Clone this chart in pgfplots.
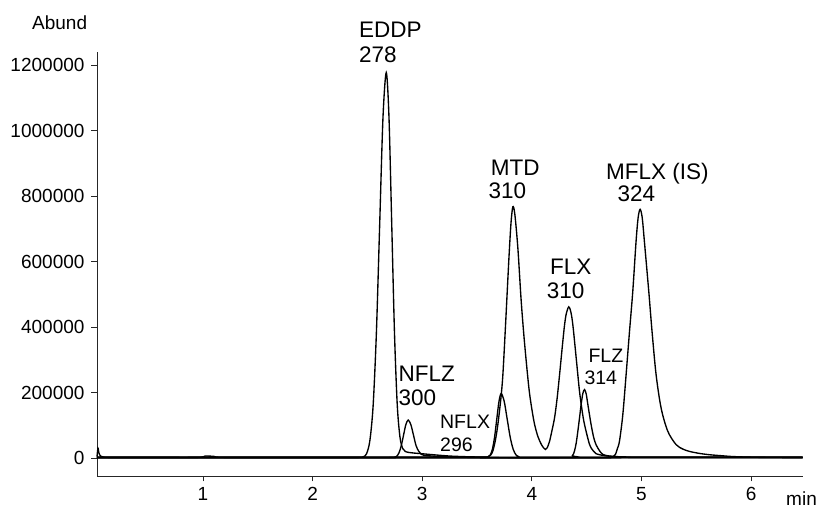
\documentclass[border=0pt]{standalone}
\usepackage{fontspec}
\setmainfont{Liberation Sans}
\usepackage{pgfplots}
\pgfplotsset{compat=1.18}

\def\lbl{\fontsize{22.5}{26}\selectfont}
\def\slbl{\fontsize{19.5}{23}\selectfont}
\def\tlbl{\fontsize{19}{22}\selectfont}

\begin{document}
\begin{tikzpicture}
\useasboundingbox (-97pt,-32pt) rectangle (723pt,476pt);
\begin{axis}[
    at={(0,0)}, anchor=south west,
    scale only axis,
    width=706pt, height=424pt,
    xmin=0.033, xmax=6.474,
    ymin=-55000, ymax=1241000,
    axis lines=left,
    axis line style={-, line width=0.9pt, black!85},
    tick align=outside,
    major tick length=5.5pt,
    tick style={line width=0.9pt, black!85},
    xtick={1,2,3,4,5,6},
    ytick={0,200000,400000,600000,800000,1000000,1200000},
    scaled y ticks=false,
    /pgf/number format/assume math mode=true,
    yticklabel style={/pgf/number format/fixed, /pgf/number format/1000 sep={}, font=\tlbl, xshift=-3.5pt},
    xticklabel style={font=\tlbl, yshift=-2pt},
    clip=false,
    trace/.style={black, line width=1.35pt, smooth, mark=none},
]
% m/z 278 (EDDP)
\addplot[trace] coordinates {(0.033,4000) (0.042,30000) (0.05,16000) (0.065,6000) (0.09,3000) (0.15,2000)
 (0.5,2000) (0.95,2000) (1.02,6000) (1.1,5000) (1.2,2000) (2.0,2000) (2.40,2000)
 (2.462,3600) (2.492,13000) (2.522,52000) (2.552,159000) (2.582,383000) (2.612,714000)
 (2.642,1040000) (2.672,1178000) (2.697,1040000) (2.722,714000) (2.747,383000)
 (2.772,164000) (2.797,64000) (2.822,29000) (2.847,19600) (2.90,16000) (3.0,13000)
 (3.1,10000) (3.25,6000) (3.4,4000) (3.6,2500) (3.9,2000) (5.0,2000) (6.47,2000)};
% m/z 300 (NFLZ)
\addplot[trace] coordinates {(0.033,1000) (1.0,1000) (2.0,1000) (2.70,1000) (2.746,2000) (2.767,5100)
 (2.788,15700) (2.809,37700) (2.830,70400) (2.851,102400) (2.872,116000) (2.896,102400)
 (2.920,70400) (2.944,37700) (2.968,20700) (2.992,11100) (3.04,7300) (3.15,5000)
 (3.3,3000) (3.5,1500) (3.7,1000) (5.0,1000) (6.47,1000)};
% m/z 296 (NFLX)
\addplot[trace] coordinates {(0.033,2000) (1.5,2000) (3.0,2000) (3.55,2000) (3.60,3000) (3.62,8600)
 (3.64,26400) (3.66,63300) (3.68,118300) (3.70,172100) (3.72,197000) (3.7475,173900)
 (3.775,119500) (3.8025,64000) (3.830,26700) (3.8575,8700) (3.885,3000) (3.94,2000)
 (5.0,2000) (6.47,2000)};
% m/z 310 (MTD, FLX)
\addplot[trace] coordinates {(0.033,3000) (1.5,3000) (3.0,3000) (3.55,3000) (3.60,4000) (3.625,9000)
 (3.645,22000) (3.668,55000) (3.69,102000) (3.718,183000) (3.736,255000) (3.76,405000)
 (3.791,610000) (3.81,718000) (3.827,768000) (3.845,745000) (3.873,640000) (3.903,480000)
 (3.934,350000) (3.973,215000) (4.0,150000) (4.025,103000) (4.055,66000) (4.086,42000)
 (4.11,30000) (4.125,26000) (4.14,31000) (4.161,50000) (4.18,78000) (4.207,122000)
 (4.23,180000) (4.253,254000) (4.275,330000) (4.298,405000) (4.315,442000) (4.337,462000)
 (4.355,448000) (4.374,408000) (4.405,305000) (4.435,204000) (4.46,142000) (4.481,102000)
 (4.526,42000) (4.56,22000) (4.587,13000) (4.648,8000) (4.72,5000) (4.85,3500) (5.0,3000)
 (6.47,3000)};
% m/z 314 (FLZ)
\addplot[trace] coordinates {(0.033,1500) (1.5,1500) (3.0,1500) (4.33,1500) (4.37,7000) (4.389,21000)
 (4.405,46000) (4.42,82000) (4.435,122000) (4.45,164000) (4.466,198000) (4.481,209000)
 (4.496,196000) (4.511,164000) (4.541,102000) (4.565,62000) (4.587,40000) (4.62,21000)
 (4.648,11000) (4.69,7000) (4.738,5000) (4.8,3000) (4.9,2000) (5.0,1500) (6.47,1500)};
% m/z 324 (MFLX, IS)
\addplot[trace] coordinates {(0.033,500) (1.5,500) (3.0,500) (4.70,500) (4.74,3000) (4.763,11000)
 (4.78,28000) (4.80,52000) (4.83,132000) (4.86,254000) (4.891,386000) (4.921,509000)
 (4.951,662000) (4.97,735000) (4.988,760000) (5.007,735000) (5.027,662000) (5.067,509000)
 (5.097,386000) (5.134,254000) (5.18,152000) (5.24,82000) (5.316,41000) (5.38,27000)
 (5.44,20000) (5.53,14000) (5.62,10000) (5.73,7000) (5.83,4500) (6.0,2500) (6.2,1500)
 (6.47,1000)};

\node[anchor=base west, inner sep=0, font=\tlbl] at (axis cs:-0.56,1310500) {Abund};
\node[anchor=base west, inner sep=0, font=\tlbl] at (axis cs:6.319,-143700) {min};

\node[anchor=base west, inner sep=0, font=\lbl] at (axis cs:2.423,1284900) {EDDP};
\node[anchor=base west, inner sep=0, font=\lbl] at (axis cs:2.423,1209700) {278};
\node[anchor=base west, inner sep=0, font=\lbl] at (axis cs:2.782,233300) {NFLZ};
\node[anchor=base west, inner sep=0, font=\lbl] at (axis cs:2.782,162000) {300};
\node[anchor=base west, inner sep=0, font=\slbl] at (axis cs:3.162,90800) {NFLX};
\node[anchor=base west, inner sep=0, font=\slbl] at (axis cs:3.162,19300) {296};
\node[anchor=base west, inner sep=0, font=\lbl] at (axis cs:3.625,862100) {MTD};
\node[anchor=base west, inner sep=0, font=\lbl] at (axis cs:3.603,793900) {310};
\node[anchor=base west, inner sep=0, font=\lbl] at (axis cs:4.166,559400) {FLX};
\node[anchor=base west, inner sep=0, font=\lbl] at (axis cs:4.136,488200) {310};
\node[anchor=base west, inner sep=0, font=\slbl] at (axis cs:4.516,290400) {FLZ};
\node[anchor=base west, inner sep=0, font=\slbl] at (axis cs:4.479,223200) {314};
\node[anchor=base west, inner sep=0, font=\lbl] at (axis cs:4.677,849800) {MFLX (IS)};
\node[anchor=base west, inner sep=0, font=\lbl] at (axis cs:4.780,783500) {324};
\end{axis}
\end{tikzpicture}
\end{document}
